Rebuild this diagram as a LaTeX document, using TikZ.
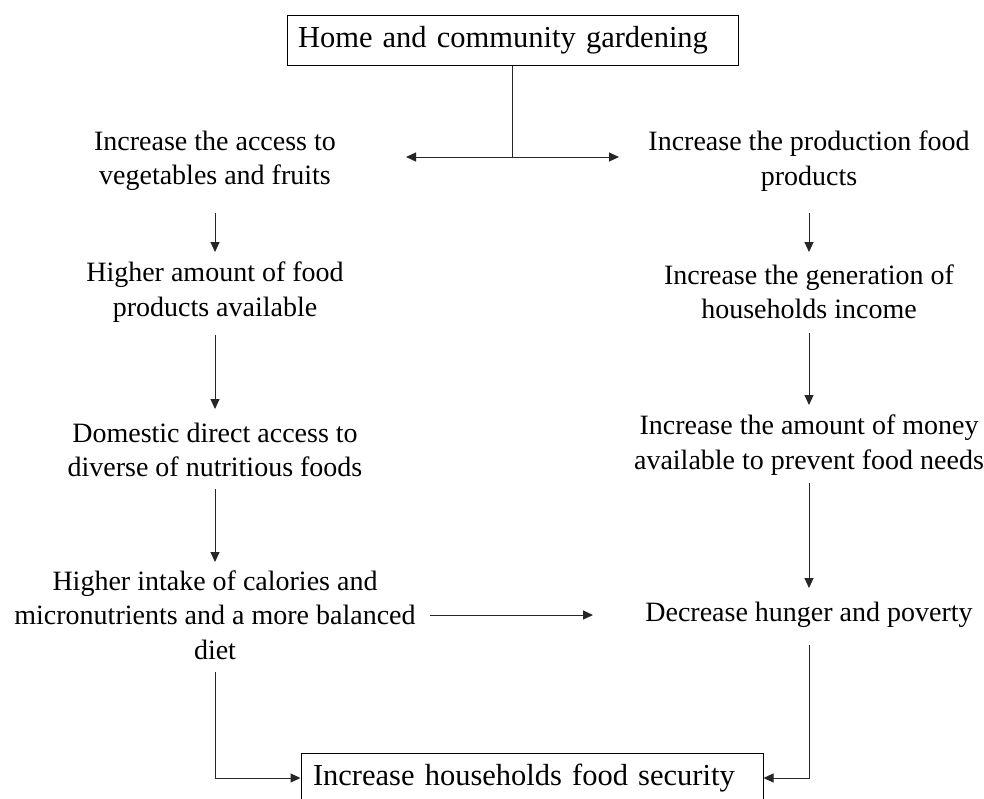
\documentclass[tikz,border=0pt]{standalone}
\usepackage{fontspec}
\setmainfont{Liberation Serif}
\usetikzlibrary{arrows.meta}
\begin{document}
\begin{tikzpicture}[x=1pt,y=-1pt,
  txt/.style={align=center, inner sep=0pt, font=\fontsize{28}{34.5}\selectfont},
  boxnode/.style={draw, line width=1pt, inner ysep=0pt, align=left, minimum height=50pt, font=\fontsize{30.5}{36}\selectfont},
  conn/.style={line width=1pt, black!85},
  arr/.style={conn, -{Triangle[length=10pt,width=9pt]}},
]
\clip (0,0) rectangle (984,798);
\fill[white] (0,0) rectangle (984,798);

% boxes
\node[boxnode, inner xsep=11pt, text width=429pt] (top) at (512.5,40) {Home and community gardening};
\node[boxnode, inner xsep=12pt, text width=438pt] (bot) at (532,778) {Increase households food security};

% left column
\node[txt] (l1) at (215,161) {Increase the access to\\vegetables and fruits};
\node[txt] (l2) at (215,292) {Higher amount of food\\products available};
\node[txt] (l3) at (215,450) {Domestic direct access to\\diverse of nutritious foods};
\node[txt] (l4) at (215,615) {Higher intake of calories and\\micronutrients and a more balanced\\diet};

% right column
\node[txt] (r1) at (809,161) {Increase the production food\\products};
\node[txt] (r2) at (809,292) {Increase the generation of\\households income};
\node[txt] (r3) at (809,445) {Increase the amount of money\\available to prevent food needs};
\node[txt] (r4) at (809,615) {Decrease hunger and poverty};

% split from top box
\coordinate (jn) at (512.5,157);
\coordinate (jl) at (406,157);
\coordinate (jr) at (619,157);
\draw[conn] (top.south) -- (jn);
\draw[arr] (jn) -- (jl);
\draw[arr] (jn) -- (jr);

% left chain
\draw[arr] ([yshift=-52pt]l1.center) -- ([yshift=40pt]l2.center);
\draw[arr] ([yshift=-43pt]l2.center) -- ([yshift=41pt]l3.center);
\draw[arr] ([yshift=-39pt]l3.center) -- ([yshift=53pt]l4.center);

% right chain
\draw[arr] ([yshift=-52pt]r1.center) -- ([yshift=40pt]r2.center);
\draw[arr] ([yshift=-41pt]r2.center) -- ([yshift=40pt]r3.center);
\draw[arr] ([yshift=-38pt]r3.center) -- ([yshift=27pt]r4.center);

% cross arrow
\draw[arr] ([xshift=215pt]l4.center) -- ([xshift=-216pt]r4.center);

% to bottom box
\draw[arr] ([yshift=-57pt]l4.center) |- (bot.west);
\draw[arr] ([yshift=-30pt]r4.center) |- (bot.east);
\end{tikzpicture}
\end{document}
